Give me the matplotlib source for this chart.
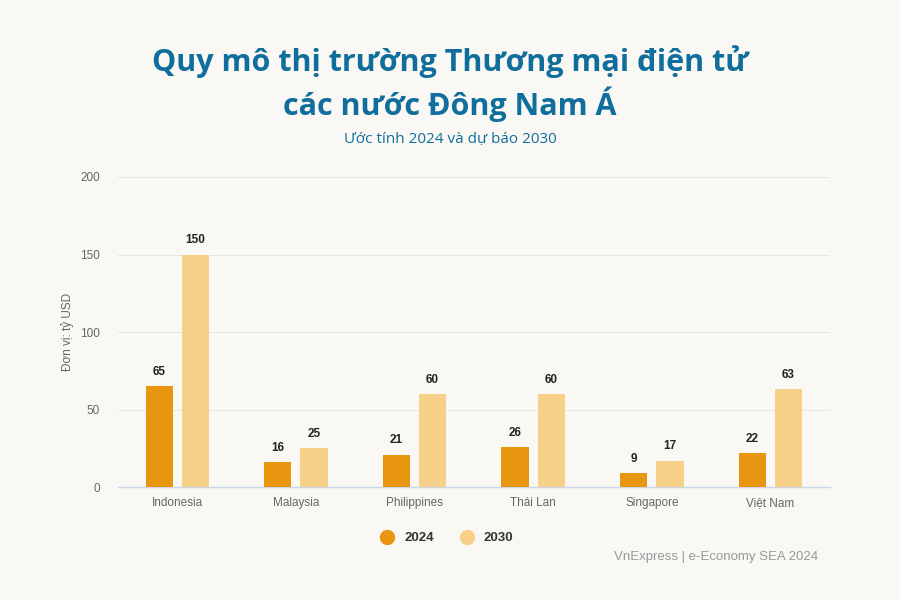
import numpy as np
import matplotlib
matplotlib.use("Agg")
import matplotlib.pyplot as plt
from matplotlib.lines import Line2D

# Data
countries = ["Indonesia", "Malaysia", "Philippines", "Thái Lan", "Singapore", "Việt Nam"]
values_2024 = [65, 16, 21, 26, 9, 22]
values_2030 = [150, 25, 60, 60, 17, 63]
series_names = ["2024", "2030"]
y_ticks = [0, 50, 100, 150, 200]

bg = "#FAF8F5"
c2024 = "#E8950F"
c2030 = "#F7D08A"
title_color = "#0F6E9C"

fig = plt.figure(figsize=(9, 6), dpi=100, facecolor=bg)
ax = fig.add_axes([0.131, 0.188, 0.791, 0.517], facecolor=bg)

x = np.arange(len(countries))
w = 0.23
off = 0.152
b1 = ax.bar(x - off, values_2024, w, color=c2024, zorder=3)
b2 = ax.bar(x + off, values_2030, w, color=c2030, zorder=3)

for bars, vals in ((b1, values_2024), (b2, values_2030)):
    for rect, v in zip(bars, vals):
        ax.annotate(str(v), (rect.get_x() + rect.get_width() / 2, v),
                    xytext=(0, 6), textcoords="offset points",
                    ha="center", va="bottom", fontsize=8.5, fontweight="bold",
                    color="#222222", family="Liberation Sans")

ax.set_xlim(-0.5, len(countries) - 0.5)
ax.set_ylim(0, 200)
ax.set_yticks(y_ticks)
ax.set_xticks(x)
ax.set_xticklabels(countries)
ax.tick_params(axis="both", length=0, labelsize=8.5, labelcolor="#666666")
ax.tick_params(axis="y", pad=13)
ax.tick_params(axis="x", pad=7)
for lab in ax.get_xticklabels() + ax.get_yticklabels():
    lab.set_family("Liberation Sans")
ax.grid(axis="y", color="#E8E6E2", linewidth=0.8, zorder=0)
for s in ["top", "right", "left"]:
    ax.spines[s].set_visible(False)
ax.spines["bottom"].set_color("#CCD6EB")
ax.spines["bottom"].set_linewidth(1)
ax.set_ylabel("Đơn vị: tỷ USD", fontsize=8.5, color="#666666",
              family="Liberation Sans", labelpad=4)

# Titles
fig.text(0.5, 0.898, "Quy mô thị trường Thương mại điện tử", ha="center", va="center",
         fontsize=22, fontweight="bold", color=title_color, family="Open Sans")
fig.text(0.5, 0.826, "các nước Đông Nam Á", ha="center", va="center",
         fontsize=22, fontweight="bold", color=title_color, family="Open Sans")
fig.text(0.5, 0.767, "Ước tính 2024 và dự báo 2030", ha="center", va="center",
         fontsize=11, color=title_color, family="Open Sans")

# Legend
handles = [Line2D([], [], marker="o", linestyle="", markersize=10, color=c)
           for c in (c2024, c2030)]
leg = fig.legend(handles, series_names, loc="center", bbox_to_anchor=(0.493, 0.103),
                 ncol=2, frameon=False, handletextpad=0.3, columnspacing=1.5,
                 prop={"family": "Liberation Sans", "weight": "bold", "size": 9.5})
for t in leg.get_texts():
    t.set_color("#333333")

fig.text(0.909, 0.071, "VnExpress | e-Economy SEA 2024", ha="right", va="center",
         fontsize=9.5, color="#999999", family="Liberation Sans")

fig.savefig("out.png", dpi=100, facecolor=bg)
